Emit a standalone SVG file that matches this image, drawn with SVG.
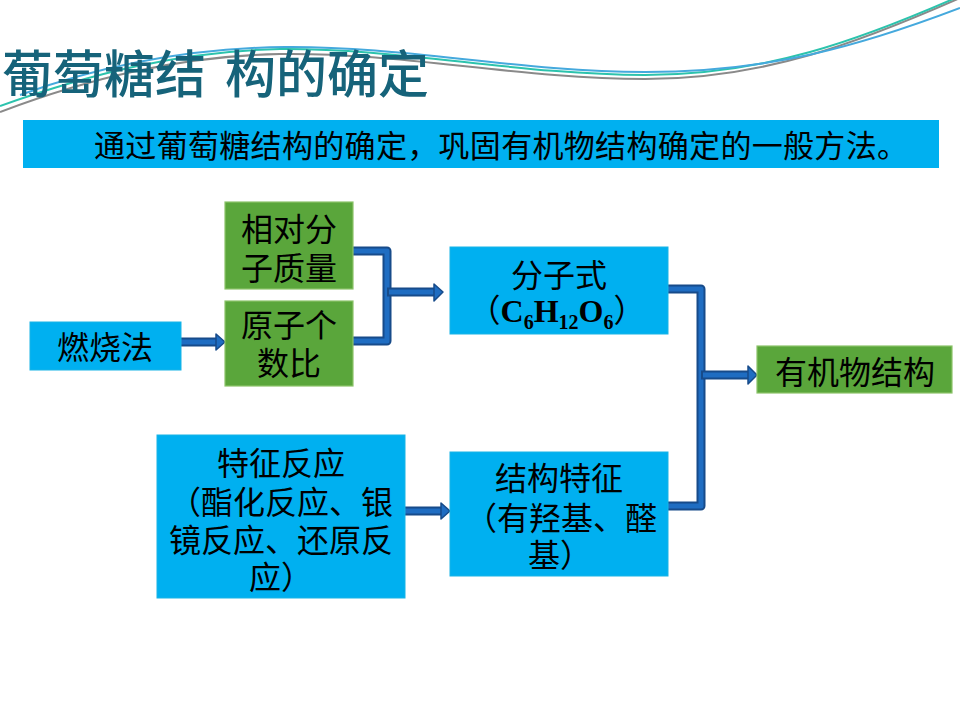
<svg xmlns="http://www.w3.org/2000/svg" width="960" height="720" viewBox="0 0 960 720">
<style>
.blue{fill:#00b0f0;stroke:#19b4e6;stroke-width:1}
.green{fill:#5aa63b;stroke:#8cc46a;stroke-width:1.2}
.t{font-family:"Noto Sans CJK SC","Noto Sans CJK TC",sans-serif;font-size:32px;fill:#000;text-anchor:middle}
.chem{font-family:"Liberation Serif",serif;font-weight:bold}
.sub{font-size:20px}
.outer{fill:none;stroke:#174b8a;stroke-width:9;stroke-linejoin:round}
.inner{fill:none;stroke:#1f6dc2;stroke-width:5;stroke-linejoin:round}
.head{fill:#1f6dc2;stroke:#174b8a;stroke-width:1.5;stroke-linejoin:round}
.wave{fill:none;stroke-width:2}
</style>
<rect width="960" height="720" fill="#ffffff"/>
<g id="decoration">
<path class="wave" stroke="#8a8a8a" d="M0,112 C90,78 180,56 280,54 C400,52 520,79 645,79 C765,79 860,42 960,-2"/>
<path class="wave" stroke="#2cc3ad" d="M0,106 C90,74 180,51 280,49 C400,48 520,75 645,75 C765,75 860,40 960,-4"/>
<path class="wave" stroke="#45a9dd" stroke-width="1.5" d="M20,95 C100,66 190,48 285,47 C405,46 520,72 645,72 C770,72 860,46 960,8"/>
</g>
<g id="title">
<text font-family="'Noto Sans CJK SC',sans-serif" font-size="51" font-weight="500" fill="#16637a" y="93"><tspan x="2">葡萄糖结</tspan><tspan x="225">构的确定</tspan></text>
</g>
<g id="banner">
<rect x="23" y="120" width="916" height="48" fill="#00b0f0"/>
<text font-family="'Noto Sans CJK SC',sans-serif" font-size="31" fill="#000" x="94" y="157" textLength="814" lengthAdjust="spacing">通过葡萄糖结构的确定，巩固有机物结构确定的一般方法。</text>
</g>
<g id="connectors">
<polyline class="outer" points="181,342 218,342"/>
<polyline class="inner" points="181,342 218,342"/>
<polygon class="head" points="216,334 225,342 216,350"/>
<polyline class="outer" points="353,251 387,251 387,341 353,341"/>
<polyline class="inner" points="353,251 387,251 387,341 353,341"/>
<polyline class="outer" points="387,292 436,292"/>
<polyline class="inner" points="389,292 436,292"/>
<polygon class="head" points="434,284 443,292 434,301"/>
<polyline class="outer" points="405,511 443,511"/>
<polyline class="inner" points="405,511 443,511"/>
<polygon class="head" points="441,503 450,511 441,519"/>
<polyline class="outer" points="668,289 701,289 701,506 668,506"/>
<polyline class="inner" points="668,289 701,289 701,506 668,506"/>
<polyline class="outer" points="701,375 750,375"/>
<polyline class="inner" points="703,375 750,375"/>
<polygon class="head" points="748,366 757,375 748,384"/>
</g>
<g id="n-ranshao">
<rect class="blue" x="30" y="322" width="151" height="48"/>
<text class="t" x="105" y="359">燃烧法</text>
</g>
<g id="n-mass">
<rect class="green" x="225" y="202" width="128" height="87"/>
<text class="t" x="289" y="241">相对分</text>
<text class="t" x="289" y="280">子质量</text>
</g>
<g id="n-ratio">
<rect class="green" x="225" y="301" width="128" height="85"/>
<text class="t" x="289" y="337">原子个</text>
<text class="t" x="289" y="375">数比</text>
</g>
<g id="n-formula">
<rect class="blue" x="450" y="247" width="218" height="87"/>
<text class="t" x="559" y="287">分子式</text>
<text class="t" x="557" y="322">（<tspan class="chem">C</tspan><tspan class="chem sub" dy="7">6</tspan><tspan class="chem" dy="-7">H</tspan><tspan class="chem sub" dy="7">12</tspan><tspan class="chem" dy="-7">O</tspan><tspan class="chem sub" dy="7">6</tspan><tspan dy="-7">）</tspan></text>
</g>
<g id="n-structure">
<rect class="green" x="757" y="346" width="195" height="47"/>
<text class="t" x="855" y="384">有机物结构</text>
</g>
<g id="n-reaction">
<rect class="blue" x="157" y="435" width="248" height="163"/>
<text class="t" x="281" y="475">特征反应</text>
<text class="t" x="281" y="514">（酯化反应、银</text>
<text class="t" x="281" y="552">镜反应、还原反</text>
<text class="t" x="281" y="589">应）</text>
</g>
<g id="n-feature">
<rect class="blue" x="450" y="452" width="218" height="124"/>
<text class="t" x="559" y="490">结构特征</text>
<text class="t" x="561" y="530">（有羟基、醛</text>
<text class="t" x="560" y="567">基）</text>
</g>
</svg>
